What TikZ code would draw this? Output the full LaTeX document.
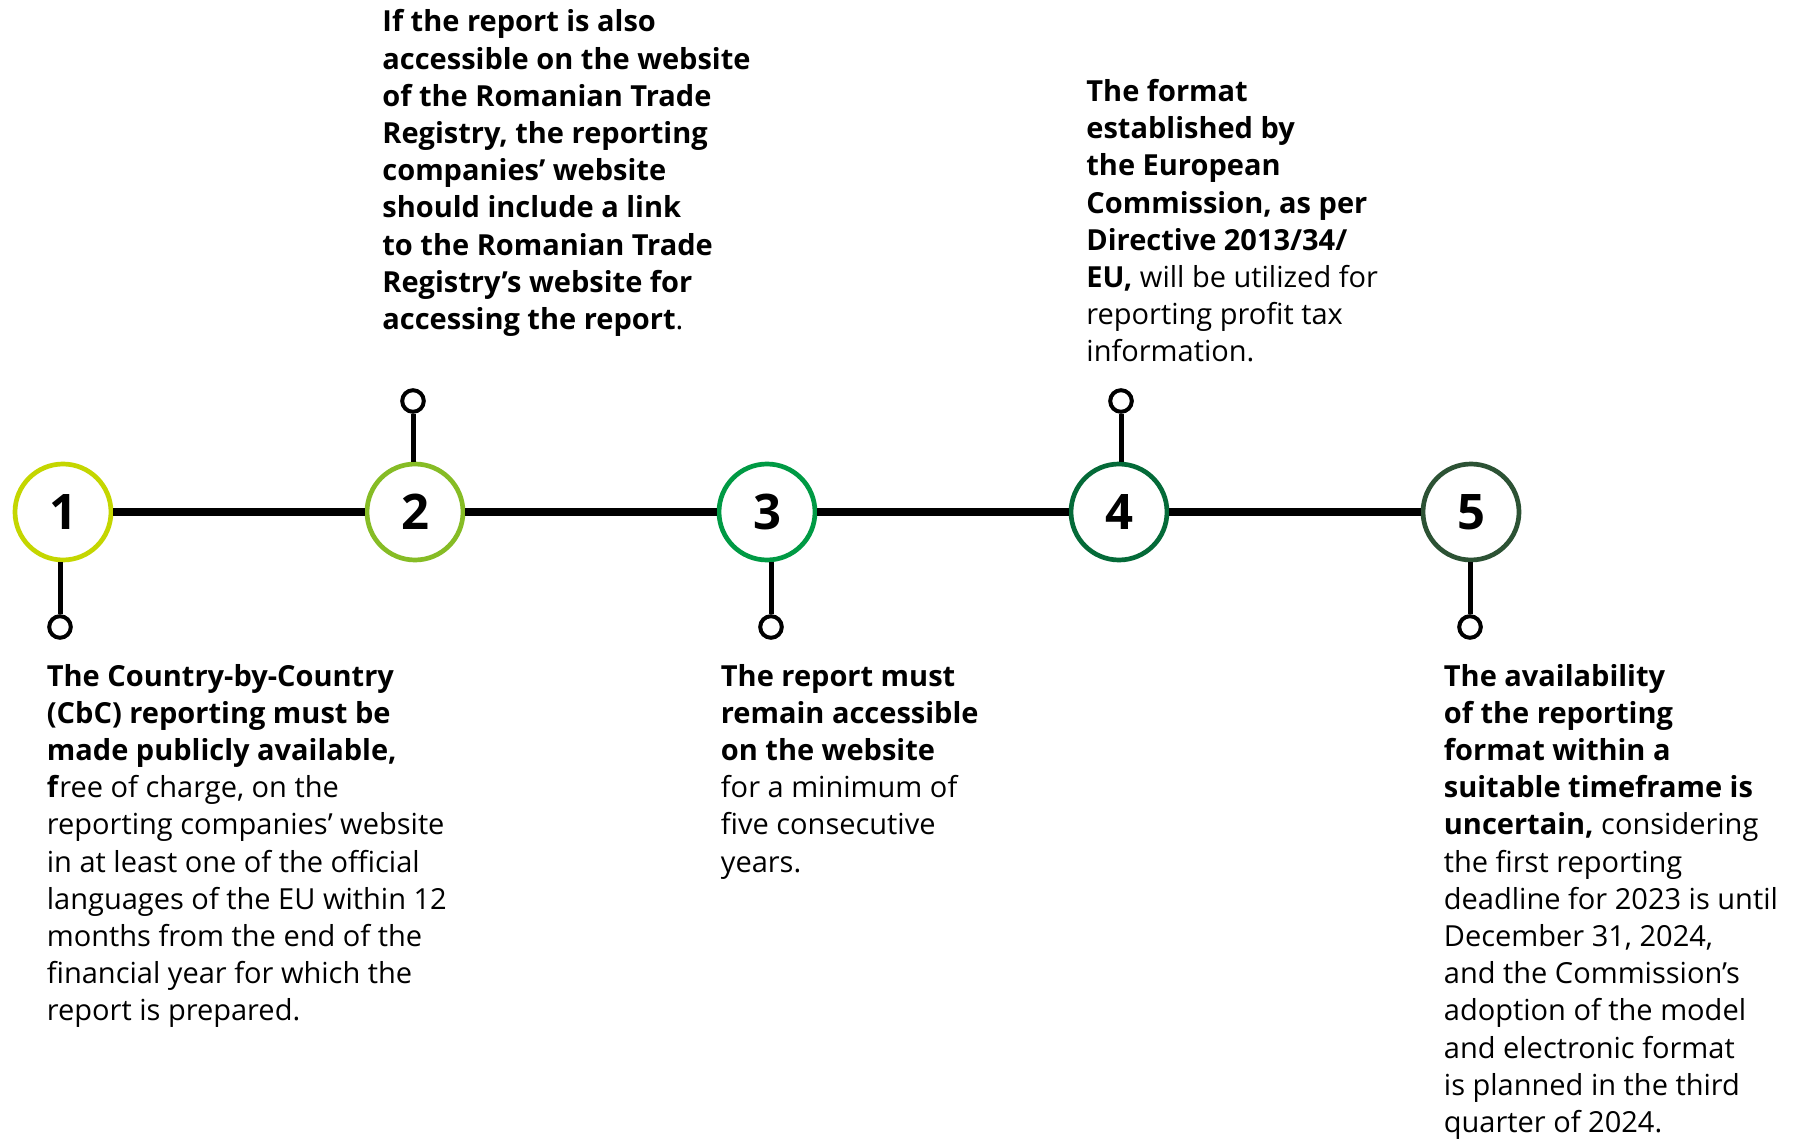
\documentclass[tikz,border=0pt]{standalone}
\usepackage{fontspec}
\setmainfont{Open Sans}
\definecolor{stepA}{HTML}{C4D600}
\definecolor{stepB}{HTML}{86BC25}
\definecolor{stepC}{HTML}{009A44}
\definecolor{stepD}{HTML}{046A38}
\definecolor{stepE}{HTML}{2C5234}
\tikzset{
  milestone/.style={circle, draw=#1, line width=2.35pt, fill=white,
    minimum size=48pt, inner sep=0pt,
    font=\fontsize{24.5pt}{28pt}\selectfont\bfseries},
  pin/.style={circle, draw=black, line width=2pt, fill=white,
    minimum size=10.8pt, inner sep=0pt},
  stem/.style={draw=black, line width=2.5pt},
  track/.style={draw=black, line width=3.75pt},
  note/.style={anchor=base west, inner sep=0pt,
    font=\fontsize{14.5pt}{18.6pt}\selectfont}
}
\newcommand{\notebox}[1]{\parbox[t]{260pt}{\raggedright #1}}
\begin{document}
\begin{tikzpicture}[x=0.5pt,y=-0.5pt]
  \useasboundingbox (0,0) rectangle (1794,1139);

  % milestones along the track
  \node[milestone=stepA] (c1) at (63,512)   {1};
  \node[milestone=stepB] (c2) at (415,512)  {2};
  \node[milestone=stepC] (c3) at (767,512)  {3};
  \node[milestone=stepD] (c4) at (1119,512) {4};
  \node[milestone=stepE] (c5) at (1471,512) {5};

  \draw[track] (c1) -- (c2);
  \draw[track] (c2) -- (c3);
  \draw[track] (c3) -- (c4);
  \draw[track] (c4) -- (c5);

  % pins with their stems
  \node[pin] (p1) at (60,627)    {};
  \node[pin] (p2) at (413,401)   {};
  \node[pin] (p3) at (771,627)   {};
  \node[pin] (p4) at (1121,401)  {};
  \node[pin] (p5) at (1470,627)  {};

  \draw[stem] (p1.north) -- (p1 |- c1.south);
  \draw[stem] (p2.south) -- (p2 |- c2.north);
  \draw[stem] (p3.north) -- (p3 |- c3.south);
  \draw[stem] (p4.south) -- (p4 |- c4.north);
  \draw[stem] (p5.north) -- (p5 |- c5.south);

  % descriptions
  \node[note] (t1) at (46.5,686) {\notebox{%
    \textbf{The Country-by-Country}\\
    \textbf{(CbC) reporting must be}\\
    \textbf{made publicly available,}\\
    \textbf{f}ree of charge, on the\\
    reporting companies’ website\\
    in at least one of the official\\
    languages of the EU within 12\\
    months from the end of the\\
    financial year for which the\\
    report is prepared.}};

  \node[note] (t2) at (382,32) {\notebox{%
    \textbf{If the report is also}\\
    \textbf{accessible on the website}\\
    \textbf{of the Romanian Trade}\\
    \textbf{Registry, the reporting}\\
    \textbf{companies’ website}\\
    \textbf{should include a link}\\
    \textbf{to the Romanian Trade}\\
    \textbf{Registry’s website for}\\
    \textbf{accessing the report}.}};

  \node[note] (t3) at (720.5,686) {\notebox{%
    \textbf{The report must}\\
    \textbf{remain accessible}\\
    \textbf{on the website}\\
    for a minimum of\\
    five consecutive\\
    years.}};

  \node[note] (t4) at (1086,101.5) {\notebox{%
    \textbf{The format}\\
    \textbf{established by}\\
    \textbf{the European}\\
    \textbf{Commission, as per}\\
    \textbf{Directive 2013/34/}\\
    \textbf{EU,} will be utilized for\\
    reporting profit tax\\
    information.}};

  \node[note] (t5) at (1443.5,686) {\notebox{%
    \textbf{The availability}\\
    \textbf{of the reporting}\\
    \textbf{format within a}\\
    \textbf{suitable timeframe is}\\
    \textbf{uncertain,} considering\\
    the first reporting\\
    deadline for 2023 is until\\
    December 31, 2024,\\
    and the Commission’s\\
    adoption of the model\\
    and electronic format\\
    is planned in the third\\
    quarter of 2024.}};
\end{tikzpicture}
\end{document}
